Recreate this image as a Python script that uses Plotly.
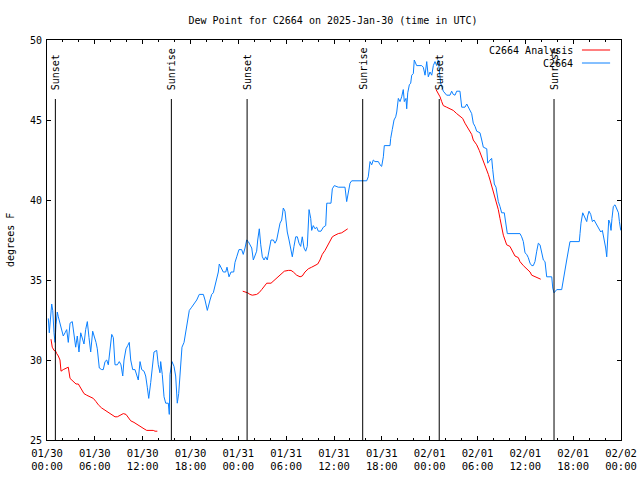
import pandas as pd
import plotly.graph_objects as go

START = "2025-01-30 00:00"

# C2664 observations: hours since 01/30 00:00 UTC, dew point (F)
obs_hours = [0.16, 0.29, 0.59, 0.72, 0.88, 1.0, 1.13, 1.29, 1.42, 1.63, 1.84, 2.04, 2.26, 2.47, 2.67, 2.89,
             3.17, 3.39, 3.6, 3.8, 4.01, 4.23, 4.43, 4.64, 4.85, 5.06, 5.27, 5.48, 5.73, 5.93, 6.15, 6.31,
             6.56, 6.86, 7.06, 7.28, 7.49, 7.69, 7.9, 8.12, 8.32, 8.53, 8.82, 9.07, 9.28, 9.5, 9.66, 9.91,
             10.12, 10.32, 10.5, 10.75, 11.04, 11.25, 11.45, 11.67, 11.88, 12.17, 12.38, 12.58, 12.76, 13.01,
             13.21, 13.42, 13.76, 13.96, 14.17, 14.26, 14.46, 14.68, 14.89, 15.22, 15.34, 15.43, 15.68, 15.93,
             16.14, 16.34, 16.52, 16.77, 16.93, 17.19, 17.4, 17.65, 17.85, 18.15, 18.44, 18.78, 19.1, 19.61,
             19.82, 20.11, 20.45, 20.66, 20.86, 21.07, 21.29, 21.49, 21.61, 21.91, 22.11, 22.42, 22.58, 22.83,
             23.08, 23.42, 23.58, 23.8, 24.08, 24.42, 24.62, 24.84, 25.05, 25.25, 25.46, 25.68, 25.88, 26.09,
             26.3, 26.43, 26.63, 26.81, 27.01, 27.22, 27.43, 27.63, 27.85, 28.1, 28.39, 28.6, 28.81, 29.01,
             29.23, 29.44, 29.64, 29.85, 29.98, 30.14, 30.36, 30.57, 30.77, 30.98, 31.2, 31.4, 31.61, 31.82,
             32.02, 32.24, 32.45, 32.65, 32.87, 33.08, 33.2, 33.4, 33.62, 33.83, 34.03, 34.37, 34.66, 34.96,
             35.09, 35.29, 35.62, 35.79, 36.04, 36.54, 37.38, 37.59, 37.72, 38.01, 38.22, 39.68, 40.1, 40.3,
             40.52, 40.73, 40.93, 41.14, 41.56, 41.77, 41.98, 42.19, 42.31, 43.03, 43.11, 43.31, 43.53, 43.74,
             43.87, 44.07, 44.28, 44.49, 44.69, 44.82, 45.03, 45.12, 45.25, 45.45, 45.62, 45.75, 45.95, 46.07,
             46.25, 46.37, 47.0, 47.2, 47.42, 47.63, 47.83, 48.04, 48.26, 48.46, 48.67, 48.88, 49.08, 49.2,
             49.38, 49.71, 50.13, 50.55, 50.76, 50.96, 51.18, 51.39, 51.8, 52.02, 52.43, 52.65, 52.85, 53.06,
             53.27, 53.47, 53.69, 53.9, 54.31, 54.53, 54.73, 55.16, 55.28, 55.57, 55.78, 55.91, 56.11, 56.32,
             56.48, 56.61, 56.82, 57.03, 57.36, 57.54, 57.74, 59.33, 59.54, 59.75, 59.96, 60.17, 60.37, 60.59,
             60.8, 61.0, 61.21, 61.43, 61.63, 61.84, 62.05, 62.26, 62.47, 62.68, 63.31, 63.44, 63.6, 63.73,
             63.94, 64.56, 64.77, 64.98, 65.19, 65.6, 66.77, 66.86, 66.98, 67.2, 67.4, 67.7, 67.82, 67.99,
             68.2, 68.41, 68.62, 68.83, 69.03, 69.24, 69.46, 69.66, 69.87, 70.08, 70.21, 70.34, 70.46, 70.62,
             70.75, 70.87, 71.04, 71.25, 71.46, 71.68, 71.8, 71.97]
obs_values = [32.6, 31.7, 33.5, 33.1, 31.7, 31.1, 32.2, 33.0, 32.7, 32.3, 31.9, 31.5, 31.7, 31.9, 31.1, 32.3,
              32.4, 31.6, 30.8, 31.5, 30.5, 31.7, 31.4, 31.0, 31.9, 32.4, 31.4, 30.5, 31.8, 31.5, 31.1, 30.7,
              29.5, 29.4, 29.4, 29.9, 30.0, 29.7, 30.5, 31.6, 31.4, 29.7, 29.7, 29.9, 29.7, 29.0, 30.0, 30.7,
              30.9, 31.1, 30.0, 29.4, 29.4, 29.1, 28.75, 29.9, 29.4, 29.3, 29.0, 28.3, 27.6, 28.6,
              29.7, 30.5, 30.6, 29.7, 29.2, 29.9, 29.1, 27.7, 27.3, 27.3, 26.6, 29.1, 29.9, 29.6,
              29.0, 27.3, 27.9, 29.7, 30.8, 31.1, 31.8, 32.7, 33.1, 33.3, 33.5, 33.75, 34.1, 34.1,
              33.75, 33.1, 33.75, 34.1, 34.2, 34.6, 35.0, 35.5, 36.0, 35.7, 35.5, 35.5, 35.8, 35.2,
              35.5, 35.5, 36.1, 36.45, 36.9, 36.9, 36.6, 37.0, 37.5, 37.4, 37.2, 37.0, 36.25, 36.6,
              36.8, 37.5, 38.2, 37.2, 36.45, 36.25, 36.45, 36.25, 36.8, 37.5, 37.5, 37.3, 37.5, 38.0,
              38.55, 38.75, 39.5, 39.3, 38.65, 38.0, 37.5, 36.9, 36.45, 37.1, 37.7, 37.7, 37.3, 37.1,
              37.7, 37.0, 36.8, 37.1, 39.4, 38.85, 38.1, 38.4, 38.2, 38.3, 38.05, 38.05, 38.3, 38.4,
              39.8, 39.8, 39.8, 40.7, 40.9, 40.8, 40.8, 39.9, 40.2, 41.05, 41.2, 41.2, 41.2, 41.45,
              42.4, 42.2, 42.5, 42.4, 42.4, 42.2, 42.1, 42.7, 43.4, 43.4, 43.85, 44.4, 45.0, 45.2,
              45.5, 46.35, 46.15, 46.45, 46.9, 46.15, 46.35, 45.7, 46.7, 47.2, 47.3, 47.8, 47.9, 48.75,
              48.5, 48.4, 48.4, 48.3, 47.8, 48.65, 47.7, 48.0, 47.8, 48.4, 48.65, 48.4, 48.75, 48.0,
              47.3, 46.8, 46.55, 46.55, 46.8, 46.6, 46.55, 46.8, 46.8, 45.8, 45.8, 46.0, 45.8, 45.6,
              45.4, 44.8, 44.6, 44.3, 44.2, 43.75, 43.3, 43.2, 42.3, 42.5, 42.6, 41.9, 41.0, 40.8,
              40.3, 39.9, 39.6, 39.2, 39.2, 38.55, 37.9, 37.9, 37.7, 37.4, 36.7, 36.6, 36.4, 36.05,
              35.9, 35.9, 36.15, 36.8, 37.3, 37.2, 36.8, 36.25, 36.15, 35.2, 35.2, 34.5, 34.2, 34.3,
              34.4, 34.4, 35.1, 35.6, 36.25, 37.4, 37.4, 37.9, 38.55, 39.2, 39.0, 38.65, 39.0, 39.3,
              39.1, 38.65, 38.75, 38.55, 38.4, 38.2, 38.0, 38.1, 37.6, 37.0, 36.45, 37.5, 38.75, 38.55,
              38.1, 38.85, 39.6, 39.7, 39.5, 39.2, 38.65, 38.1]

# C2664 Analysis (three separate runs, None = gap)
ana_hours = [0.5, 0.66, 0.88, 1.09, 1.22, 1.42, 1.63, 1.76, 2.04, 2.38, 2.67, 2.89, 3.3, 3.64, 3.93, 4.14,
             4.43, 4.64, 4.98, 5.39, 5.81, 6.15, 6.44, 6.86, 7.28, 7.69, 8.12, 8.53, 8.82, 9.16, 9.57, 9.91,
             10.2, 10.5, 10.91, 11.33, 11.75, 12.17, 12.51, 13.33, 13.55, 13.84, None,
             24.55, 25.17, 25.46, 25.75, 26.3, 26.59, 26.93, 27.35, 27.56, 28.1, 28.51, 29.01, 29.44, 29.77,
             30.27, 30.61, 30.9, 31.32, 31.74, 32.02, 32.36, 32.78, 33.2, 33.62, 33.96, 34.24, 34.53, 34.87,
             35.29, 35.79, 36.13, 36.54, 36.97, 37.38, 37.72, None,
             48.8, 49.3, 49.51, 49.71, 50.13, 50.55, 50.96, 51.39, 51.8, 52.14, 52.43, 52.65, 53.06, 53.27,
             53.47, 53.9, 54.22, 54.53, 54.73, 54.94, 55.16, 55.36, 55.57, 55.78, 55.98, 56.2, 56.41, 56.61,
             56.82, 57.03, 57.24, 57.45, 57.66, 58.07, 58.29, 58.49, 58.7, 59.12, 59.33, 59.75, 60.17, 60.59,
             60.8, 61.21, 61.63, 61.93]
ana_values = [31.3, 30.8, 30.6, 30.55, 30.4, 30.25, 30.0, 29.3, 29.4, 29.5, 29.55, 28.85, 28.65, 28.5, 28.5, 28.3,
              28.1, 27.9, 27.8, 27.7, 27.6, 27.4, 27.2, 27.0, 26.85, 26.7, 26.6, 26.45, 26.45, 26.55, 26.65, 26.6,
              26.4, 26.2, 26.1, 25.95, 25.8, 25.7, 25.6, 25.6, 25.55, 25.55, None,
              34.3, 34.2, 34.1, 34.05, 34.1, 34.2, 34.4, 34.7, 34.8, 34.8, 35.0, 35.2, 35.4, 35.55,
              35.6, 35.6, 35.5, 35.3, 35.2, 35.25, 35.5, 35.7, 35.8, 35.9, 36.0, 36.25, 36.6, 36.85,
              37.2, 37.7, 37.8, 37.9, 37.95, 38.1, 38.2, None,
              46.9, 46.45, 46.15, 45.9, 45.8, 45.7, 45.6, 45.4, 45.25, 45.1, 44.8, 44.6, 44.3, 44.1,
              43.75, 43.45, 43.1, 42.7, 42.45, 42.2, 41.9, 41.6, 41.25, 40.9, 40.6, 40.2, 39.8, 39.4,
              38.85, 38.3, 37.8, 37.5, 37.2, 37.1, 36.9, 36.7, 36.5, 36.4, 36.15, 35.9, 35.7, 35.5,
              35.3, 35.2, 35.1, 35.05]

# Sun events (hours since start)
sun_hours = [1.05, 15.6, 25.1, 39.6, 49.2, 63.6]
sun_labels = ["Sunset", "Sunrise", "Sunset", "Sunrise", "Sunset", "Sunrise"]

start = pd.Timestamp(START)
def to_time(hours):
    return [None if h is None else start + pd.Timedelta(hours=h) for h in hours]

FONT = "DejaVu Sans Mono"
fig = go.Figure()
fig.add_trace(go.Scatter(x=to_time(ana_hours), y=ana_values, mode="lines", name="C2664 Analysis",
                         line=dict(color="#ff0000", width=1), connectgaps=False, showlegend=False))
fig.add_trace(go.Scatter(x=to_time(obs_hours), y=obs_values, mode="lines", name="C2664",
                         line=dict(color="#0a80ff", width=1), showlegend=False))

for h, lab in zip(sun_hours, sun_labels):
    t = start + pd.Timedelta(hours=h)
    fig.add_shape(type="line", x0=t, x1=t, xref="x", yref="paper", y0=0, y1=0.8525,
                  line=dict(color="black", width=1))
    fig.add_annotation(x=t, xref="x", y=0.87, yref="paper", text=lab, textangle=-90,
                       showarrow=False, xanchor="center", yanchor="bottom",
                       font=dict(family=FONT, size=10, color="black"))

# manual gnuplot-style legend (text then sample line)
for name, color, yp in [("C2664 Analysis", "#ff0000", 0.975), ("C2664", "#0a80ff", 0.9425)]:
    fig.add_annotation(x=0.9199, xref="paper", y=yp, yref="paper", text=name, showarrow=False,
                       xanchor="right", yanchor="middle", font=dict(family=FONT, size=10, color="black"))
    fig.add_shape(type="line", xref="paper", yref="paper", x0=0.932, x1=0.981, y0=yp, y1=yp,
                  line=dict(color=color, width=1))

fig.add_annotation(x=-0.0645, xref="paper", y=0.5, yref="paper", text="degrees F", textangle=-90,
                   showarrow=False, xanchor="center", yanchor="middle",
                   font=dict(family=FONT, size=10, color="black"))

fig.update_layout(
    width=640, height=480,
    margin=dict(l=47, r=19, t=40, b=40, autoexpand=False),
    paper_bgcolor="white", plot_bgcolor="white",
    title=dict(text="Dew Point for C2664 on 2025-Jan-30 (time in UTC)", x=333 / 640, xanchor="center",
               y=1 - 20 / 480, yanchor="middle", font=dict(family=FONT, size=10, color="black")),
    font=dict(family=FONT, size=10, color="black"),
)
fig.update_xaxes(range=[start, start + pd.Timedelta(hours=72)], showgrid=False, zeroline=False,
                 showline=True, linecolor="black", linewidth=1, mirror="ticks", automargin=False,
                 ticks="inside", ticklen=4, tickcolor="black", dtick=6 * 3600 * 1000,
                 tick0=start, tickformat="%m/%d<br>%H:%M", tickfont=dict(size=10.5),
                 ticklabelstandoff=3,
                 minor=dict(dtick=2 * 3600 * 1000, ticks="inside", ticklen=2, tickcolor="black", showgrid=False))
fig.update_yaxes(range=[25, 50], showgrid=False, zeroline=False, showline=True, linecolor="black",
                 linewidth=1, mirror="ticks", ticks="inside", ticklen=4, tickcolor="black", dtick=5,
                 ticklabelstandoff=2, automargin=False)

fig.write_html("out.html", post_script="document.body.style.margin='0';",
               config={"displayModeBar": False})
